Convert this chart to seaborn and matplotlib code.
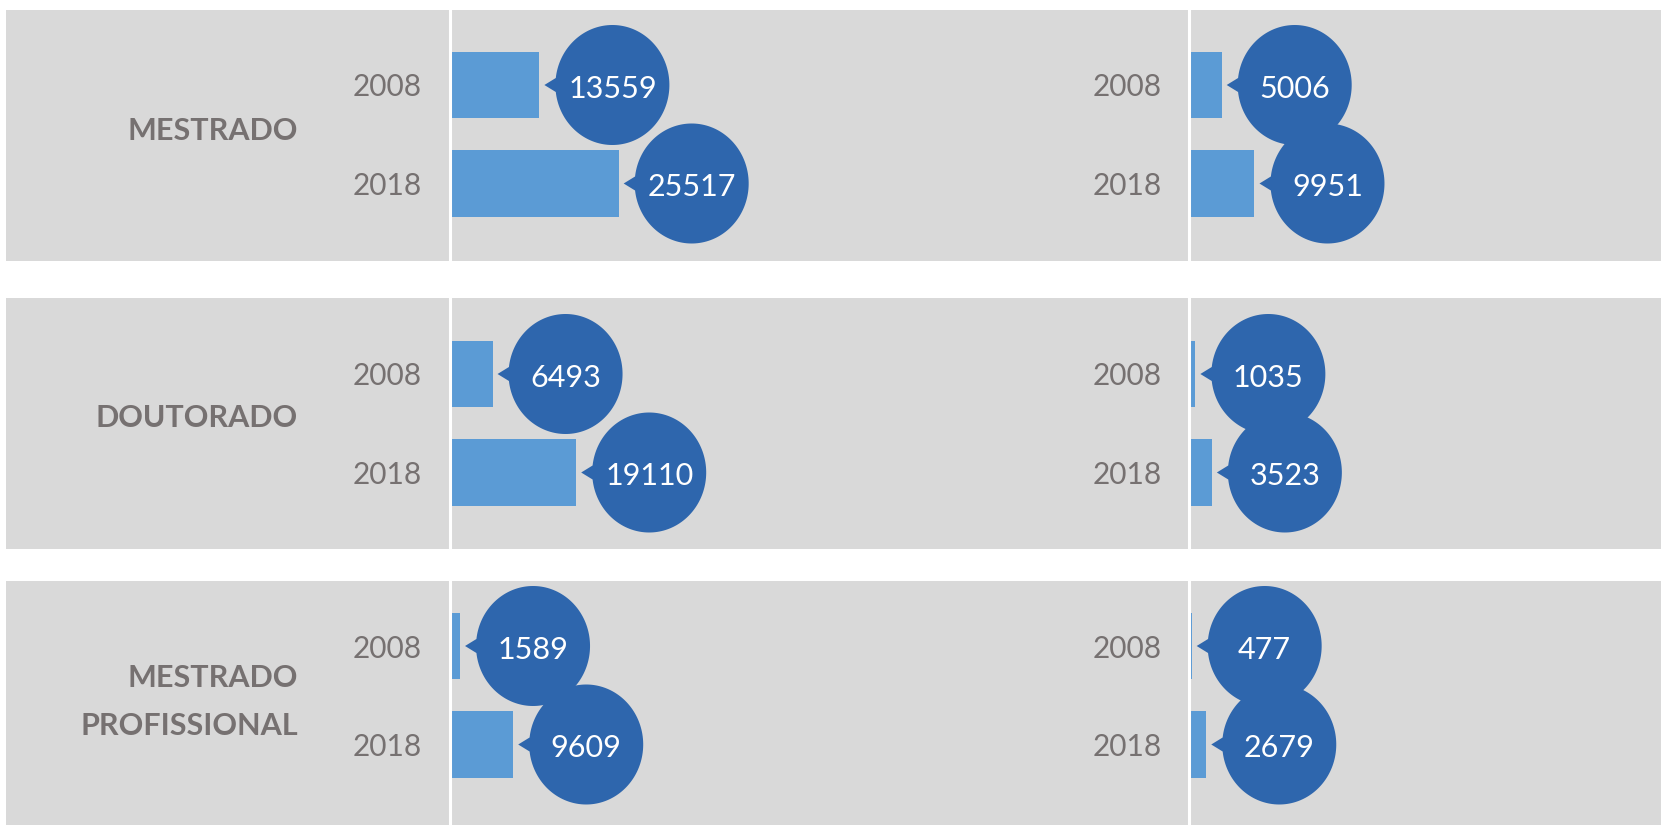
import numpy as np
import pandas as pd
import seaborn as sns
import matplotlib.pyplot as plt
import matplotlib.transforms as mtransforms
from matplotlib.patches import Rectangle, PathPatch
from matplotlib.path import Path

# dados
niveis = ["MESTRADO", "DOUTORADO", "MESTRADO\nPROFISSIONAL"]
anos = ["2008", "2018"]
esq_2008 = [13559, 6493, 1589]
esq_2018 = [25517, 19110, 9609]
dir_2008 = [5006, 1035, 477]
dir_2018 = [9951, 3523, 2679]

linhas = []
for i, nivel in enumerate(niveis):
    linhas.append({"nivel": nivel, "coluna": "esq", "ano": "2008", "valor": esq_2008[i]})
    linhas.append({"nivel": nivel, "coluna": "esq", "ano": "2018", "valor": esq_2018[i]})
    linhas.append({"nivel": nivel, "coluna": "dir", "ano": "2008", "valor": dir_2008[i]})
    linhas.append({"nivel": nivel, "coluna": "dir", "ano": "2018", "valor": dir_2018[i]})
df = pd.DataFrame(linhas)

sns.set_theme(style="white")
plt.rcParams["font.family"] = ["Lato", "DejaVu Sans"]

CINZA = "#D9D9D9"
BARRA = "#5B9BD5"
BALAO = "#2E66AD"
TEXTO = "#767171"

W, H = 1661, 825
fig = plt.figure(figsize=(W / 100, H / 100), dpi=100)

# faixas cinzas (px, topo/base) e centro da primeira barra de cada faixa
faixas = [(10, 261), (298, 549), (581, 825)]
centro_1 = [85, 374, 646]
passo = 98.5  # px entre as duas barras
y_rotulo = [131, 418, 702]

x_esq, x_meio = 449.5, 1188.5
escala = 6.63 / 1000  # px por unidade


def balao(ax, x, y, texto, z):
    a, b = 57, 60      # semi-eixos do balao (px)
    cx = 73            # distancia do centro ao fim da barra
    ponta = 5
    phi = np.arcsin(7 / b)
    t = np.linspace(np.pi - phi, -np.pi + phi, 160)
    verts = np.vstack([[ponta, 0], np.column_stack([cx + a * np.cos(t), b * np.sin(t)]), [ponta, 0]])
    codes = [Path.MOVETO] + [Path.LINETO] * (len(verts) - 2) + [Path.CLOSEPOLY]
    trans = (mtransforms.Affine2D().scale(1 / fig.dpi) + fig.dpi_scale_trans
             + mtransforms.ScaledTranslation(x, y, ax.transData))
    ax.add_patch(PathPatch(Path(verts, codes), transform=trans, facecolor=BALAO,
                           edgecolor="none", zorder=z, clip_on=False))
    ax.annotate(texto, xy=(x, y), xytext=(cx * 72 / fig.dpi, -1), textcoords="offset points",
                ha="center", va="center_baseline", color="white", fontsize=22,
                zorder=z + 0.5, annotation_clip=False)


for r, nivel in enumerate(niveis):
    topo, base = faixas[r]
    fig.add_artist(Rectangle((6 / W, 1 - base / H), (W - 6) / W, (base - topo) / H,
                             transform=fig.transFigure, facecolor=CINZA,
                             edgecolor="none", zorder=-5))
    fig.text(298 / W, 1 - y_rotulo[r] / H, nivel, ha="right", va="center",
             fontsize=22, fontweight="bold", color=TEXTO, linespacing=1.9)

    for coluna, (x0, x1) in [("esq", (x_esq, x_meio)), ("dir", (x_meio, W))]:
        ax = fig.add_axes([x0 / W, 1 - base / H, (x1 - x0) / W, (base - topo) / H])
        ax.set_facecolor("none")
        sub = df[(df["nivel"] == nivel) & (df["coluna"] == coluna)]
        sns.barplot(data=sub, x="valor", y="ano", order=anos, orient="h",
                    color=BARRA, saturation=1, width=0.68, linewidth=0, ax=ax)

        # baloes: 2018 por baixo, 2008 por cima
        for j in [1, 0]:
            v = sub[sub["ano"] == anos[j]]["valor"].iloc[0]
            balao(ax, v, j, str(v), 4 - j)

        ax.set_xlim(0, (x1 - x0) / escala)
        ax.set_ylim((base - centro_1[r]) / passo, -(centro_1[r] - topo) / passo)
        ax.set_xlabel("")
        ax.set_ylabel("")
        ax.set_xticks([])
        for lado in ["top", "right", "bottom"]:
            ax.spines[lado].set_visible(False)
        ax.spines["left"].set_color("white")
        ax.spines["left"].set_linewidth(2.2)
        ax.tick_params(axis="y", length=0, pad=20 if coluna == "esq" else 19,
                       labelsize=21.5, labelcolor=TEXTO)

fig.savefig("out.png", dpi=100)
